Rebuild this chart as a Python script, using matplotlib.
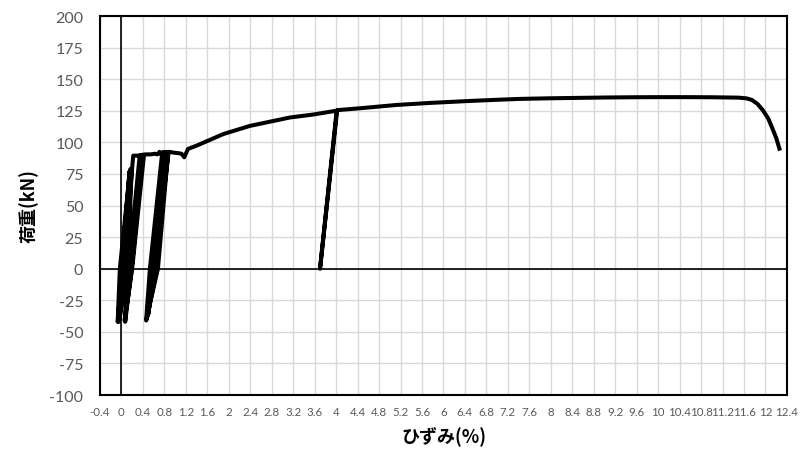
import numpy as np
import matplotlib
matplotlib.use("Agg")
import matplotlib.pyplot as plt

plt.rcParams["axes.unicode_minus"] = False

# load-strain record (strain %, load kN)
strain = [
    # small cycles near the origin
    0.00, 0.15, 0.03, -0.07, -0.03, 0.16, 0.05, -0.06, -0.01, 0.17,
    0.07, -0.05, 0.01, 0.18, 0.09, -0.05, 0.03, 0.19, 0.12, -0.04,
    0.05, 0.20, 0.22, 0.30, 0.40,
    # cycles after first yield
    0.19, 0.07, 0.13, 0.34, 0.42, 0.20, 0.06, 0.14, 0.36, 0.45,
    0.55, 0.62, 0.67, 0.71, 0.74, 0.80, 0.87,
    # cycles near 0.8 %
    0.68, 0.46, 0.53, 0.76, 0.84, 0.66, 0.47, 0.56, 0.78, 0.86,
    0.64, 0.48, 0.59, 0.80, 0.88, 0.62, 0.50, 0.61, 0.82, 0.90,
    0.95, 1.05, 1.12, 1.17, 1.24, 1.40, 1.90, 2.39, 2.76, 3.14, 3.57, 4.01,
    # unloading at 4 %
    3.70, 4.02,
    4.50, 5.12, 5.74, 6.50, 7.00, 7.42, 8.00, 8.50, 9.00, 9.50, 10.00,
    10.50, 11.00, 11.50, 11.65, 11.75, 11.85, 11.95, 12.05, 12.12, 12.20, 12.26,
]
load = [
    0.0, 77.0, 0.0, -42.0, 0.0, 78.0, 0.0, -41.0, 0.0, 79.0,
    0.0, -42.0, 0.0, 78.0, 0.0, -40.0, 0.0, 79.0, 0.0, -41.0,
    0.0, 80.0, 89.5, 89.5, 90.0,
    0.0, -42.0, 0.0, 89.5, 90.0, 0.0, -41.0, 0.0, 90.0, 90.5,
    90.5, 91.0, 90.5, 92.5, 90.5, 91.5, 92.0,
    0.0, -41.0, 0.0, 92.0, 92.0, 0.0, -40.0, 0.0, 92.0, 92.0,
    0.0, -38.0, 0.0, 92.0, 92.5, 0.0, -36.0, 0.0, 92.0, 92.5,
    92.0, 91.5, 91.0, 88.2, 94.8, 97.4, 106.6, 113.0, 116.3, 119.7, 122.0, 125.1,
    0.0, 125.5,
    127.2, 129.6, 131.2, 132.8, 133.7, 134.4, 134.9, 135.2, 135.5, 135.7, 135.8,
    135.8, 135.7, 135.4, 134.8, 133.5, 130.5, 125.5, 119.0, 112.0, 103.5, 95.0,
]

xticks = np.round(np.arange(-0.4, 12.41, 0.4), 1)
yticks = list(range(-100, 201, 25))

fig = plt.figure(figsize=(8.03, 4.60), dpi=100)
ax = fig.add_axes([0.1245, 0.139, 0.8555, 0.824])

ax.plot(strain, load, color="black", lw=2.9, solid_joinstyle="round", zorder=3)

ax.set_xlim(-0.4, 12.4)
ax.set_ylim(-100, 200)
ax.set_xticks(xticks)
ax.set_xticklabels(["{:g}".format(v) for v in xticks])
ax.set_yticks(yticks)

ax.grid(True, color="#d9d9d9", lw=1.0, zorder=0)
ax.axhline(0, color="black", lw=1.2, zorder=2)
ax.axvline(0, color="black", lw=1.2, zorder=2)
for s in ax.spines.values():
    s.set_color("black")
    s.set_linewidth(1.5)

ax.tick_params(axis="both", length=0, colors="#595959")
ax.tick_params(axis="x", labelsize=8.3, pad=8)
ax.tick_params(axis="y", labelsize=11.5, pad=12)
for lab in ax.get_xticklabels() + ax.get_yticklabels():
    lab.set_family("Lato")

jp = ["Noto Sans CJK JP", "DejaVu Sans"]
ax.set_xlabel("ひずみ(%)", family=jp, fontsize=13, fontweight="bold", labelpad=6)
ax.set_ylabel("荷重(kN)", family=jp, fontsize=13, fontweight="bold", labelpad=8)

fig.savefig("out.png", dpi=100)
